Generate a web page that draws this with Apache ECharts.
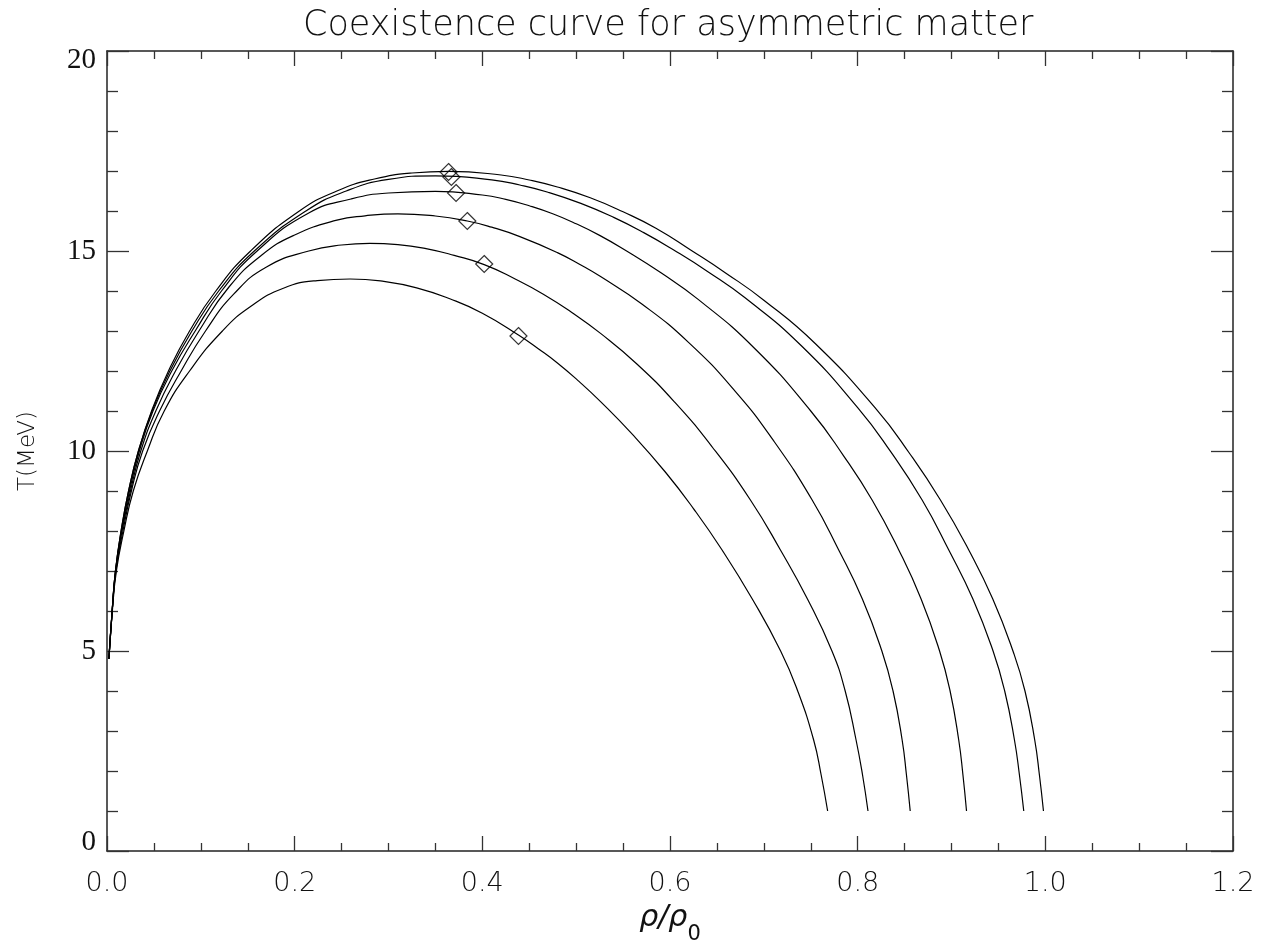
<!DOCTYPE html>
<html><head><meta charset="utf-8">
<script src="https://cdn.jsdelivr.net/npm/echarts@6/dist/echarts.min.js"></script>
<style>html,body{margin:0;padding:0;background:#fff}#c{width:1261px;height:942px}</style>
</head><body><div id="c"></div>
<script>
// [rho/rho0, T(MeV)], one list per curve (outermost first)
const curve1 = [[0.002,4.8],[0.0055,6],[0.009,7],[0.015,8],[0.023,9],[0.0335,10],[0.0475,11],[0.0655,12],[0.088,13],[0.116,14],[0.153,15],[0.205,16],[0.245,16.5],[0.285,16.8],[0.325,16.95],[0.364,16.99],[0.42,16.90],[0.45,16.775],[0.48,16.60],[0.515,16.33],[0.55,15.98],[0.585,15.57],[0.622,15.025],[0.66,14.44],[0.70,13.77],[0.755,12.68],[0.82,11.04],[0.855,9.95],[0.8882,8.775],[0.9184,7.525],[0.9440,6.3],[0.9655,5],[0.9783,4],[0.9887,2.775],[0.9937,1.9],[0.998,1]];
const curve2 = [[0.002,4.8],[0.0055,6],[0.009,7],[0.015,8],[0.023,9],[0.0335,10],[0.048,11],[0.067,12],[0.0905,13],[0.119,14],[0.157,15],[0.212,16],[0.255,16.5],[0.30,16.79],[0.35,16.88],[0.41,16.78],[0.44,16.65],[0.47,16.47],[0.505,16.19],[0.54,15.84],[0.572,15.46],[0.604,15.025],[0.64,14.49],[0.68,13.83],[0.74,12.63],[0.80,11.085],[0.835,9.99],[0.8687,8.775],[0.8971,7.525],[0.9228,6.3],[0.9443,5],[0.9567,4],[0.9671,2.775],[0.9724,1.9],[0.977,1]];
const curve3 = [[0.002,4.8],[0.0055,6],[0.009,7],[0.0155,8],[0.024,9],[0.0345,10],[0.049,11],[0.069,12],[0.094,13],[0.122,14],[0.160,15],[0.215,15.95],[0.26,16.3],[0.30,16.45],[0.35,16.49],[0.40,16.40],[0.425,16.29],[0.45,16.13],[0.475,15.93],[0.50,15.68],[0.525,15.39],[0.552,15.025],[0.59,14.46],[0.63,13.79],[0.69,12.57],[0.75,11.0],[0.785,9.88],[0.8154,8.775],[0.8438,7.525],[0.8676,6.3],[0.8873,5],[0.8985,4],[0.9077,2.775],[0.9122,1.9],[0.916,1]];
const curve4 = [[0.002,4.8],[0.0055,6],[0.0093,7],[0.016,8],[0.025,9],[0.036,10],[0.052,11],[0.073,12],[0.098,13],[0.130,14.1],[0.165,14.9],[0.20,15.4],[0.245,15.77],[0.275,15.88],[0.31,15.93],[0.35,15.875],[0.384,15.75],[0.41,15.595],[0.44,15.36],[0.48,14.96],[0.505,14.65],[0.526,14.36],[0.57,13.675],[0.62,12.71],[0.67,11.48],[0.71,10.27],[0.7515,8.775],[0.7798,7.525],[0.805,6.3],[0.8258,5],[0.8377,4],[0.8474,2.775],[0.852,1.9],[0.856,1]];
const curve5 = [[0.002,4.8],[0.0055,6],[0.0095,7],[0.017,8],[0.026,9],[0.038,10],[0.056,11],[0.079,12],[0.105,13],[0.135,13.92],[0.17,14.6],[0.215,15.0],[0.25,15.15],[0.28,15.19],[0.31,15.16],[0.34,15.06],[0.37,14.89],[0.402,14.66],[0.435,14.30],[0.465,13.92],[0.495,13.47],[0.526,12.94],[0.565,12.17],[0.605,11.22],[0.645,10.10],[0.6857,8.775],[0.7177,7.525],[0.7465,6.3],[0.7726,5],[0.7867,4],[0.7983,2.775],[0.8052,1.9],[0.811,1]];
const curve6 = [[0.002,4.8],[0.0057,6],[0.010,7],[0.018,8],[0.028,9],[0.043,10],[0.061,11],[0.088,12],[0.123,13],[0.153,13.61],[0.188,14.07],[0.224,14.26],[0.259,14.30],[0.295,14.24],[0.330,14.08],[0.366,13.80],[0.40,13.445],[0.4385,12.9],[0.46,12.55],[0.48,12.20],[0.503,11.74],[0.526,11.235],[0.56,10.415],[0.595,9.475],[0.625,8.56],[0.6555,7.525],[0.6877,6.3],[0.7179,5],[0.7361,4],[0.7531,2.775],[0.7611,1.9],[0.768,1]];
// critical points (diamonds)
const critical = [[0.364,16.975],[0.367,16.85],[0.372,16.45],[0.384,15.75],[0.402,14.675],[0.4385,12.875]];
const xTicks = {min:0, max:1.2, interval:0.2};
const yTicks = {min:0, max:20, interval:5};
const titleText = 'Coexistence curve for asymmetric matter';

const curves = [curve1, curve2, curve3, curve4, curve5, curve6];
const chart = echarts.init(document.getElementById('c'));
const axisCol = '#222';
const tickStyle = {color:'#333', width:1.3};
function xAxisDef(show, pos){
  return {type:'value', position:pos, min:xTicks.min, max:xTicks.max, interval:xTicks.interval,
    axisLine:{show:true, onZero:false, lineStyle:{color:axisCol, width:1.5}},
    axisTick:{show:true, inside:true, length:15, lineStyle:tickStyle},
    minorTick:{show:true, splitNumber:4, length:8, lineStyle:tickStyle},
    splitLine:{show:false}, minorSplitLine:{show:false},
    axisLabel:{show:show, margin:19, fontFamily:'DejaVu Sans', fontWeight:200, fontSize:27, color:'#111',
      formatter:v=>v.toFixed(1)},
    name: show ? 'ρ/ρ{s|0}' : '', nameLocation:'middle', nameGap:52,
    nameTextStyle:{fontFamily:'DejaVu Sans', fontStyle:'italic', fontSize:30, color:'#111',
      rich:{s:{fontFamily:'DejaVu Sans', fontStyle:'normal', fontSize:21, verticalAlign:'bottom', padding:[0,0,-12,0], color:'#111'}}}
  };
}
function yAxisDef(show, pos){
  return {type:'value', position:pos, min:yTicks.min, max:yTicks.max, interval:yTicks.interval,
    axisLine:{show:true, onZero:false, lineStyle:{color:axisCol, width:1.5}},
    axisTick:{show:true, inside:true, length:22, lineStyle:tickStyle},
    minorTick:{show:true, splitNumber:5, length:11, lineStyle:tickStyle},
    splitLine:{show:false}, minorSplitLine:{show:false},
    axisLabel:{show:show, margin:11, fontFamily:'Liberation Serif', fontSize:29, color:'#111',
      verticalAlignMaxLabel:'top', verticalAlignMinLabel:'bottom',
      formatter:v => (v===yTicks.min || v===yTicks.max) ? '{e|'+v+'}' : String(v),
      rich:{e:{fontFamily:'Liberation Serif', fontSize:29, lineHeight:18, color:'#111'}}},
    name: show ? 'T(MeV)' : '', nameLocation:'middle', nameGap:67, nameRotate:90,
    nameTextStyle:{fontFamily:'DejaVu Sans', fontWeight:200, fontSize:23, color:'#111'}
  };
}
const series = curves.map(c => ({type:'line', data:c, xAxisIndex:0, yAxisIndex:0, showSymbol:false,
  smooth:0.5, lineStyle:{color:'#000', width:1.2}, silent:true, animation:false, z:2}));
series.push({type:'scatter', data:critical, xAxisIndex:0, yAxisIndex:0, symbol:'diamond', symbolSize:[17,17],
  itemStyle:{color:'rgba(0,0,0,0)', borderColor:'#000', borderWidth:1.2}, animation:false, z:3});
chart.setOption({
  animation:false,
  backgroundColor:'#fff',
  title:{text:titleText, left:298, top:3, textStyle:{fontFamily:'DejaVu Sans', fontWeight:200, fontSize:35, color:'#111'}},
  grid:{left:107, right:28, top:51, bottom:91, containLabel:false, outerBoundsMode:'none'},
  xAxis:[xAxisDef(true,'bottom'), xAxisDef(false,'top')],
  yAxis:[yAxisDef(true,'left'), yAxisDef(false,'right')],
  series:series
});
</script></body></html>
